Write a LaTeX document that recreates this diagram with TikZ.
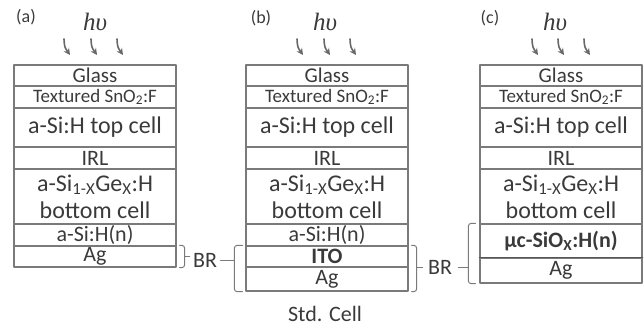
\documentclass[tikz,border=0pt]{standalone}
\usepackage{fontspec}
\setmainfont{Carlito}
\newfontfamily\hvfont{Liberation Serif}
\usetikzlibrary{arrows.meta}
\definecolor{linec}{HTML}{7A7A7A}
\definecolor{txtc}{HTML}{3A3A3A}
\begin{document}
\begin{tikzpicture}[x=1pt,y=-1pt,line join=round,line cap=round,
	font=\fontsize{22}{26}\selectfont,text=txtc,
	layer/.style={draw=linec,line width=1.1pt,minimum width=162,inner sep=0pt,align=center},
	small/.style={font=\fontsize{19}{22}\selectfont},
	big/.style={font=\fontsize{24}{27}\selectfont},
	brk/.style={draw=linec,line width=1pt,rounded corners=2.5pt},
	ray/.style={draw=linec!85!black,line width=1.6pt,-{Stealth[length=6.5pt,width=6.5pt]}},
	tag/.style={font=\fontsize{18}{20}\selectfont}]
	\useasboundingbox (0,0) rectangle (644,329);
	% the three stacks share the upper layers
	\foreach \s/\x in {a/95,b/327,c/561}{
		\node[layer,font=\fontsize{21}{24}\selectfont,minimum height=21] (\s1) at (\x,75.5) {Glass};
		\node[layer,small,minimum height=22] (\s2) at (\x,97) {Textured SnO\textsubscript{2}:F};
		\node[layer,big,minimum height=39] (\s3) at (\x,127.5) {a-Si:H top cell};
		\node[layer,minimum height=22] (\s4) at (\x,158) {IRL};
		\node[layer,big,minimum height=55] (\s5) at (\x,196.5) {a-Si\textsubscript{1-X}Ge\textsubscript{X}:H\\bottom cell};
	}
	% (a)
	\node[layer,minimum height=22] (a6) at (95,235) {a-Si:H(n)};
	\node[layer,minimum height=21] (a7) at (95,256.5) {Ag};
	% (b)
	\node[layer,minimum height=22] (b6) at (327,235) {a-Si:H(n)};
	\node[layer,minimum height=21] (b7) at (327,256.5) {\bfseries ITO};
	\node[layer,minimum height=24] (b8) at (327,279) {Ag};
	% (c)
	\node[layer,minimum height=34] (c6) at (561,241) {\bfseries µc-SiO\textsubscript{X}:H(n)};
	\node[layer,minimum height=25] (c7) at (561,270.5) {Ag};
	\draw[draw=linec!70!black,line width=1.8pt] (c7.north west) -- (c7.north east);
	% labels
	\node[tag] (la) at (26,17) {(a)};
	\node[tag] (lb) at (261,18) {(b)};
	\node[tag] (lc) at (490,18) {(c)};
	\foreach \n/\x in {a/95,b/325,c/555}
		\node[font=\fontsize{25}{27}\hvfont\itshape] (hv\n) at (\x,22) {hυ};
	\foreach \x in {64,91,117,297,324,350,532,558,584}
		\draw[ray] (\x,39) .. controls (\x+0.5,47) .. (\x+6,55);
	\node (std) at (325,314) {Std. Cell};
	% back reflectors
	\node (br1) at (205,260) {BR};
	\node (br2) at (440,267) {BR};
	\draw[brk] ([xshift=3]a7.north east) -- ++(5,0) coordinate (kar) |- ([xshift=3]a7.south east);
	\draw[brk] (kar |- a7.east) -- ++(5,0);
	\draw[brk] ([xshift=-3]b7.north west) -- ++(-8,0) coordinate (kbl) |- ([xshift=-3]b8.south west);
	\draw[brk] (kbl |- br1) -- (br1.east);
	\draw[brk] ([xshift=3]b7.north east) -- ++(5,0) coordinate (kbr) |- ([xshift=3]b8.south east);
	\draw[brk] (kbr |- br2) -- ++(6,0);
	\draw[brk] ([xshift=-4]c6.north west) -- ++(-7,0) coordinate (kcl) |- ([xshift=-4]c7.south west);
	\draw[brk] (kcl |- br2) -- ++(-10,0);
\end{tikzpicture}
\end{document}
